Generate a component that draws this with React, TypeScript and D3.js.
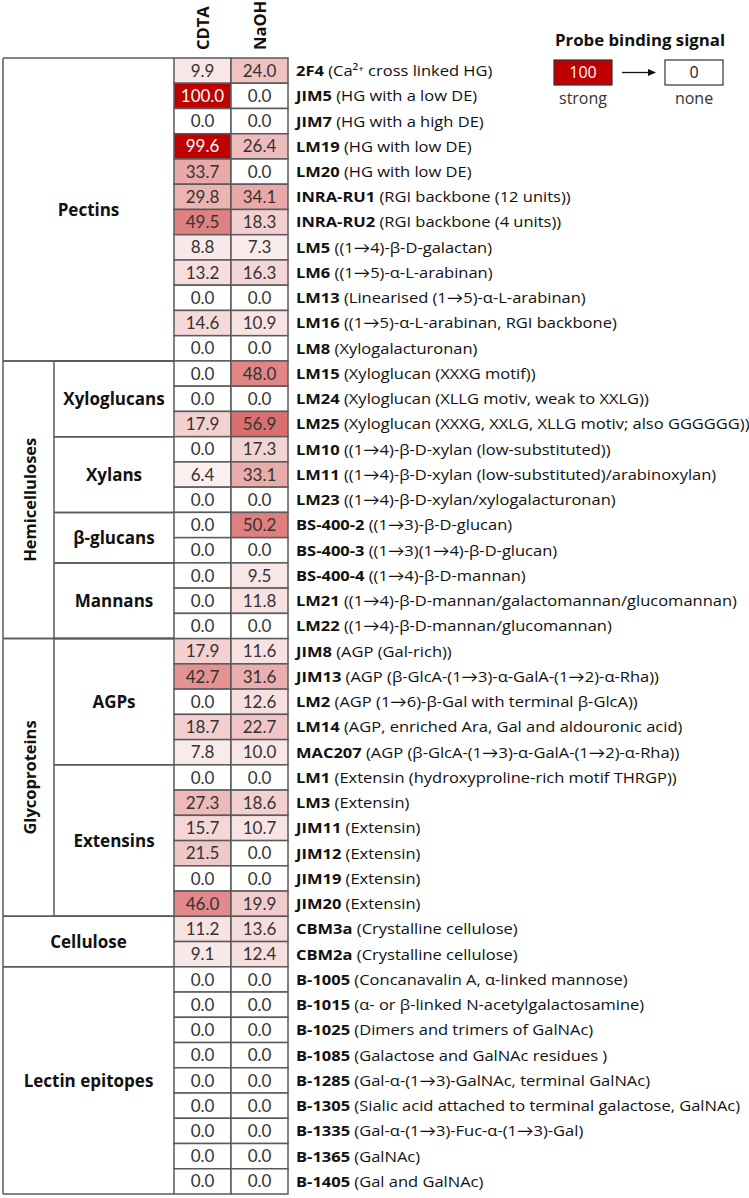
import React from "react";
import * as d3 from "d3";

const columns = ["CDTA", "NaOH"];

const probes = [
  "2F4", "JIM5", "JIM7", "LM19", "LM20", "INRA-RU1", "INRA-RU2", "LM5", "LM6", "LM13", "LM16", "LM8",
  "LM15", "LM24", "LM25", "LM10", "LM11", "LM23", "BS-400-2", "BS-400-3", "BS-400-4", "LM21", "LM22",
  "JIM8", "JIM13", "LM2", "LM14", "MAC207", "LM1", "LM3", "JIM11", "JIM12", "JIM19", "JIM20",
  "CBM3a", "CBM2a",
  "B-1005", "B-1015", "B-1025", "B-1085", "B-1285", "B-1305", "B-1335", "B-1365", "B-1405",
];

const descriptions = [
  "(Ca²⁺ cross linked HG)", "(HG with a low DE)", "(HG with a high DE)", "(HG with low DE)", "(HG with low DE)",
  "(RGI backbone (12 units))", "(RGI backbone (4 units))", "((1→4)-β-D-galactan)", "((1→5)-α-L-arabinan)",
  "(Linearised (1→5)-α-L-arabinan)", "((1→5)-α-L-arabinan, RGI backbone)", "(Xylogalacturonan)",
  "(Xyloglucan (XXXG motif))", "(Xyloglucan (XLLG motiv, weak to XXLG))", "(Xyloglucan (XXXG, XXLG, XLLG motiv; also GGGGGG))",
  "((1→4)-β-D-xylan (low-substituted))", "((1→4)-β-D-xylan (low-substituted)/arabinoxylan)", "((1→4)-β-D-xylan/xylogalacturonan)",
  "((1→3)-β-D-glucan)", "((1→3)(1→4)-β-D-glucan)", "((1→4)-β-D-mannan)",
  "((1→4)-β-D-mannan/galactomannan/glucomannan)", "((1→4)-β-D-mannan/glucomannan)",
  "(AGP (Gal-rich))", "(AGP (β-GlcA-(1→3)-α-GalA-(1→2)-α-Rha))", "(AGP (1→6)-β-Gal with terminal β-GlcA))",
  "(AGP, enriched Ara, Gal and aldouronic acid)", "(AGP (β-GlcA-(1→3)-α-GalA-(1→2)-α-Rha))",
  "(Extensin (hydroxyproline-rich motif THRGP))", "(Extensin)", "(Extensin)", "(Extensin)", "(Extensin)", "(Extensin)",
  "(Crystalline cellulose)", "(Crystalline cellulose)",
  "(Concanavalin A, α-linked mannose)", "(α- or β-linked N-acetylgalactosamine)", "(Dimers and trimers of GalNAc)",
  "(Galactose and GalNAc residues )", "(Gal-α-(1→3)-GalNAc, terminal GalNAc)",
  "(Sialic acid attached to terminal galactose, GalNAc)", "(Gal-α-(1→3)-Fuc-α-(1→3)-Gal)", "(GalNAc)", "(Gal and GalNAc)",
];

const cdta = [
  9.9, 100.0, 0.0, 99.6, 33.7, 29.8, 49.5, 8.8, 13.2, 0.0, 14.6, 0.0,
  0.0, 0.0, 17.9, 0.0, 6.4, 0.0, 0.0, 0.0, 0.0, 0.0, 0.0,
  17.9, 42.7, 0.0, 18.7, 7.8, 0.0, 27.3, 15.7, 21.5, 0.0, 46.0,
  11.2, 9.1,
  0, 0, 0, 0, 0, 0, 0, 0, 0,
];

const naoh = [
  24.0, 0.0, 0.0, 26.4, 0.0, 34.1, 18.3, 7.3, 16.3, 0.0, 10.9, 0.0,
  48.0, 0.0, 56.9, 17.3, 33.1, 0.0, 50.2, 0.0, 9.5, 11.8, 0.0,
  11.6, 31.6, 12.6, 22.7, 10.0, 0.0, 18.6, 10.7, 0.0, 0.0, 19.9,
  13.6, 12.4,
  0, 0, 0, 0, 0, 0, 0, 0, 0,
];

// main groups: [label, startRow, endRow(exclusive), vertical]
const mainGroups: [string, number, number, boolean][] = [
  ["Pectins", 0, 12, false],
  ["Hemicelluloses", 12, 23, true],
  ["Glycoproteins", 23, 34, true],
  ["Cellulose", 34, 36, false],
  ["Lectin epitopes", 36, 45, false],
];

const subGroups: [string, number, number][] = [
  ["Xyloglucans", 12, 15],
  ["Xylans", 15, 18],
  ["β-glucans", 18, 20],
  ["Mannans", 20, 23],
  ["AGPs", 23, 28],
  ["Extensins", 28, 34],
];

const legendValues = [100, 0];
const legendLabels = ["strong", "none"];

const FONT = "'Open Sans', Lato, sans-serif";
const NUMFONT = "Lato, 'Open Sans', sans-serif";
const LINE = "#5a5a5a";

export default function App() {
  const W = 749, H = 1198;
  const top = 58, bottom = 1194;
  const xLeft = 3, xMid = 54, xCell = 174, cellW = 57;
  const y = d3.scaleBand<number>().domain(d3.range(probes.length)).range([top, bottom]).paddingInner(0);
  const rowH = y.bandwidth();
  const x = d3.scaleBand<string>().domain(columns).range([xCell, xCell + cellW * 2]);
  const color = d3.scaleLinear<string>().domain([0, 100]).range(["#ffffff", "#c00000"]).interpolate(d3.interpolateRgb);
  const xLabel = xCell + cellW * 2 + 8;
  const rows = probes.map((p, i) => ({ p, d: descriptions[i], vals: [cdta[i], naoh[i]] }));
  const yb = (r: number) => top + r * rowH;

  return (
    <svg width={W} height={H} style={{ display: "block", position: "absolute", left: 0, top: 0 }} fontFamily={FONT}>
      <rect x={0} y={0} width={W} height={H} fill="#fff" />
      {/* column headers */}
      {columns.map((c) => (
        <text key={c} transform={`translate(${(x(c) as number) + cellW / 2 + 6},${top - 8}) rotate(-90)`}
          fontSize={16.5} fontWeight="bold" fill="#111">{c}</text>
      ))}
      {/* cells */}
      {rows.map((r, i) =>
        r.vals.map((v, j) => (
          <g key={`${i}-${j}`}>
            <rect x={x(columns[j])} y={y(i)} width={cellW} height={rowH} fill={color(v)} stroke={LINE} strokeWidth={1.5} />
            <text x={(x(columns[j]) as number) + cellW / 2} y={(y(i) as number) + rowH / 2} dy="0.36em"
              textAnchor="middle" fontSize={17} fontFamily={NUMFONT} fill={v > 90 ? "#fff" : "#333"}>{v.toFixed(1)}</text>
          </g>
        ))
      )}
      {/* probe labels */}
      {rows.map((r, i) => (
        <text key={`l${i}`} transform={`translate(${xLabel},${(y(i) as number) + rowH / 2}) scale(1.1,1)`} dy="0.36em"
          fontSize={15} fill="#111">
          <tspan fontWeight="bold">{r.p}</tspan>
          <tspan> {r.d}</tspan>
        </text>
      ))}
      {/* left group box */}
      <line x1={xLeft} x2={xLeft} y1={top} y2={bottom} stroke={LINE} strokeWidth={1.5} />
      {mainGroups.map(([label, s, e, vert]) => (
        <g key={label}>
          <line x1={xLeft} x2={xCell} y1={yb(s)} y2={yb(s)} stroke={LINE} strokeWidth={1.5} />
          <line x1={xLeft} x2={xCell} y1={yb(e)} y2={yb(e)} stroke={LINE} strokeWidth={1.5} />
          {vert ? (
            <>
              <line x1={xMid} x2={xMid} y1={yb(s)} y2={yb(e)} stroke={LINE} strokeWidth={1.5} />
              <text transform={`translate(${(xLeft + xMid) / 2 + 2},${(yb(s) + yb(e)) / 2}) rotate(-90)`} dy="0.36em"
                textAnchor="middle" fontSize={16.5} fontWeight="bold" fill="#111">{label}</text>
            </>
          ) : (
            <text x={(xLeft + xCell) / 2} y={(yb(s) + yb(e)) / 2} dy="0.36em" textAnchor="middle"
              fontSize={17} fontWeight="bold" fill="#111">{label}</text>
          )}
        </g>
      ))}
      {subGroups.map(([label, s, e]) => (
        <g key={label}>
          <line x1={xMid} x2={xCell} y1={yb(s)} y2={yb(s)} stroke={LINE} strokeWidth={1.5} />
          <line x1={xMid} x2={xCell} y1={yb(e)} y2={yb(e)} stroke={LINE} strokeWidth={1.5} />
          <text x={(xMid + xCell) / 2} y={(yb(s) + yb(e)) / 2} dy="0.36em" textAnchor="middle"
            fontSize={17} fontWeight="bold" fill="#111">{label}</text>
        </g>
      ))}
      {/* legend */}
      <g>
        <text x={640} y={46} textAnchor="middle" fontSize={16.8} fontWeight="bold" fill="#111">Probe binding signal</text>
        {legendValues.map((v, k) => {
          const bx = k === 0 ? 554 : 665;
          return (
            <g key={v}>
              <rect x={bx} y={60} width={58} height={25} fill={color(v)} stroke="#333" strokeWidth={1.2} />
              <text x={bx + 29} y={72.5} dy="0.36em" textAnchor="middle" fontSize={16} fill={v > 90 ? "#fff" : "#222"}>{v}</text>
              <text x={bx + 29} y={98} dy="0.36em" textAnchor="middle" fontSize={16} fill="#333">{legendLabels[k]}</text>
            </g>
          );
        })}
        <line x1={622} x2={650} y1={72.5} y2={72.5} stroke="#111" strokeWidth={1.3} />
        <path d="M648,69 L656,72.5 L648,76 Z" fill="#111" />
      </g>
    </svg>
  );
}
